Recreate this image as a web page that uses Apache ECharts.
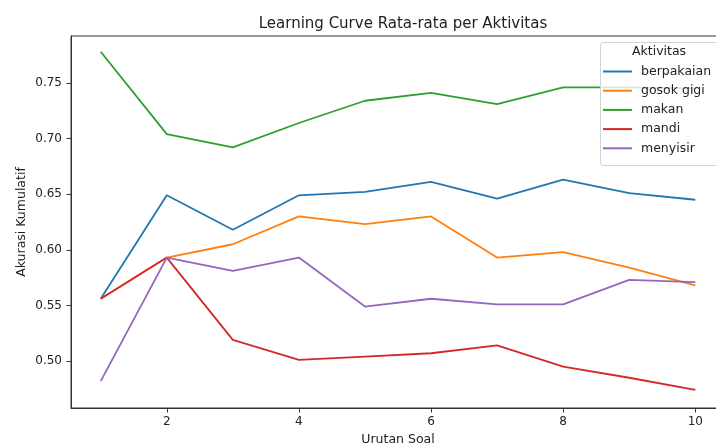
<!DOCTYPE html>
<html>
<head>
<meta charset="utf-8">
<script src="https://cdn.jsdelivr.net/npm/echarts@6/dist/echarts.min.js"></script>
<style>
html,body{margin:0;padding:0;background:#fff;overflow:hidden;}
#chart{width:716px;height:446px;}
</style>
</head>
<body>
<div id="chart"></div>
<script>
// ---- data ----
const steps = [1, 2, 3, 4, 5, 6, 7, 8, 9, 10];
const berpakaian = [0.556, 0.649, 0.618, 0.649, 0.652, 0.661, 0.646, 0.663, 0.651, 0.645];
const gosokGigi  = [0.556, 0.593, 0.605, 0.630, 0.623, 0.630, 0.593, 0.598, 0.584, 0.568];
const makan      = [0.778, 0.704, 0.692, 0.714, 0.734, 0.741, 0.731, 0.746, 0.746, 0.745];
const mandi      = [0.556, 0.593, 0.519, 0.501, 0.504, 0.507, 0.514, 0.495, 0.485, 0.474];
const menyisir   = [0.482, 0.593, 0.581, 0.593, 0.549, 0.556, 0.551, 0.551, 0.573, 0.571];
const seriesNames = ['berpakaian', 'gosok gigi', 'makan', 'mandi', 'menyisir'];
const seriesValues = [berpakaian, gosokGigi, makan, mandi, menyisir];
const colors = ['#1f77b4', '#ff7f0e', '#2ca02c', '#d62728', '#9467bd'];
const xTicks = [2, 4, 6, 8, 10];
const yTicks = [0.50, 0.55, 0.60, 0.65, 0.70, 0.75];

const FONT = 'DejaVu Sans';
const chart = echarts.init(document.getElementById('chart'), null, {renderer: 'canvas'});

const series = seriesNames.map((name, i) => ({
  name: name,
  type: 'line',
  data: steps.map((s, j) => [s, seriesValues[i][j]]),
  showSymbol: false,
  symbol: 'none',
  lineStyle: {color: colors[i], width: 1.8},
  itemStyle: {color: colors[i]},
  animation: false,
  z: 2
}));

chart.setOption({
  animation: false,
  backgroundColor: '#ffffff',
  title: {
    text: 'Learning Curve Rata-rata per Aktivitas',
    left: 398, top: 12,
    textAlign: 'center',
    textStyle: {fontFamily: FONT, fontSize: 15, fontWeight: 'normal', color: '#222'}
  },
  grid: {
    left: 71, top: 36, right: -9, bottom: 38,
    containLabel: false,
    outerBoundsMode: 'none',
    show: true, borderColor: '#333', borderWidth: 1, backgroundColor: 'transparent'
  },
  xAxis: {
    type: 'value',
    min: 0.55, max: 10.45,
    name: 'Urutan Soal',
    nameLocation: 'middle',
    nameGap: 25,
    nameMoveOverlap: false,
    nameTextStyle: {fontFamily: FONT, fontSize: 12.5, color: '#222'},
    axisLine: {show: true, lineStyle: {color: '#333', width: 1}},
    axisTick: {show: true, length: 4.5, lineStyle: {color: '#333'}, customValues: xTicks},
    axisLabel: {fontFamily: FONT, fontSize: 12, color: '#222', margin: 8, customValues: xTicks,
      formatter: v => String(v)},
    splitLine: {show: false}
  },
  yAxis: {
    type: 'value',
    min: 0.4578, max: 0.7922,
    name: 'Akurasi Kumulatif',
    nameLocation: 'middle',
    nameGap: 43,
    nameMoveOverlap: false,
    nameTextStyle: {fontFamily: FONT, fontSize: 12.5, color: '#222'},
    axisLine: {show: true, lineStyle: {color: '#333', width: 1}},
    axisTick: {show: true, length: 4.5, lineStyle: {color: '#333'}, customValues: yTicks},
    axisLabel: {fontFamily: FONT, fontSize: 12, color: '#222', margin: 9, customValues: yTicks,
      formatter: v => v.toFixed(2)},
    splitLine: {show: false}
  },
  legend: {
    orient: 'vertical',
    left: 603, top: 64,
    padding: 0,
    itemWidth: 29, itemHeight: 2,
    itemGap: 4.2,
    icon: 'rect',
    data: seriesNames,
    textStyle: {fontFamily: FONT, fontSize: 12.5, color: '#222', padding: [0, 0, 0, 4], lineHeight: 15},
    z: 10
  },
  graphic: {
    elements: [
      {type: 'rect', left: 600, top: 42, z: 8,
        shape: {width: 130, height: 123, r: 3},
        style: {fill: 'rgba(255,255,255,0.8)', stroke: '#d3d3d3', lineWidth: 1}},
      {type: 'text', left: 632, top: 45, z: 9,
        style: {text: 'Aktivitas', fontFamily: FONT, fontSize: 12.5, fill: '#222'}}
    ]
  },
  series: series
});
</script>
</body>
</html>
